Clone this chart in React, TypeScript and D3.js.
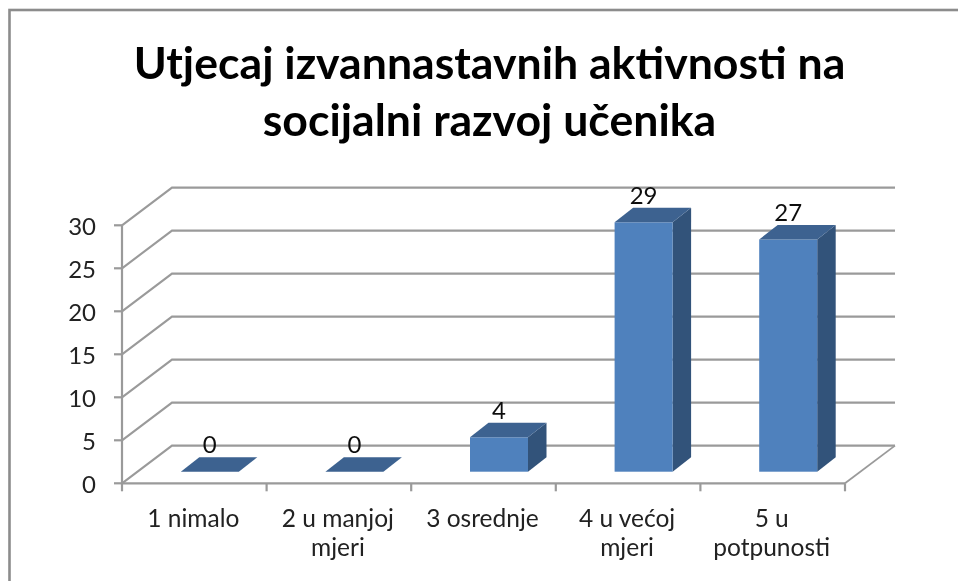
import React from "react";
import * as d3 from "d3";

const categories = [["1 nimalo"], ["2 u manjoj", "mjeri"], ["3 osrednje"], ["4 u većoj", "mjeri"], ["5 u", "potpunosti"]];
const values = [0, 0, 4, 29, 27];
const yTicks = [0, 5, 10, 15, 20, 25, 30];
const titleLines = ["Utjecaj izvannastavnih aktivnosti na", "socijalni razvoj učenika"];

const FONT = "Lato, 'Open Sans', sans-serif";
const GRID = "#9a9a9a";
const FRONT = "#4f81bd";
const TOP = "#3c6290";
const SIDE = "#32527a";

export default function App() {
  const band = d3.scaleBand<number>().domain(d3.range(5)).range([122, 845]).paddingInner(0).paddingOuter(0);
  const y = d3.scaleLinear().domain([0, 30]).range([483.3, 225.3]);
  const wallDx = 50;
  const wallDy = -37.7;
  const barW = 58;
  const barDx = 18.5;
  const barDy = -14.5;
  const barBase = 471.7;
  const barInset = 58.8;
  const barH = d3.scaleLinear().domain([0, 30]).range([0, 258]);
  const line = d3.line();
  const poly = (pts: [number, number][]) => line(pts)! + "Z";
  const tickXs = [...band.domain().map((i) => band(i)!), 845];

  return (
    <svg width={958} height={581} style={{ position: "absolute", left: 0, top: 0, background: "#fff" }}>
      <defs>
        <filter id="soft" x="-5%" y="-5%" width="110%" height="110%">
          <feGaussianBlur stdDeviation="0.55" />
        </filter>
      </defs>
      <g filter="url(#soft)">
        <rect x={9.5} y={10} width={980} height={600} fill="#fff" stroke="#8c8c8c" strokeWidth={2.6} />
        {yTicks.map((t) => (
          <g key={t} fill="none" stroke={GRID} strokeWidth={2.1}>
            <path d={line([[122, y(t)], [122 + wallDx, y(t) + wallDy], [845 + wallDx, y(t) + wallDy]])!} />
          </g>
        ))}
        <path d={line([[845, y(0)], [845 + wallDx, y(0) + wallDy]])!} fill="none" stroke={GRID} strokeWidth={1.8} />
        <path d={line([[122, y(30)], [122, y(0)], [845, y(0)]])!} fill="none" stroke={GRID} strokeWidth={2.2} />
        {yTicks.map((t) => (
          <line key={t} x1={114} x2={122} y1={y(t)} y2={y(t)} stroke={GRID} strokeWidth={2.2} />
        ))}
        {tickXs.map((x, i) => (
          <line key={i} x1={x} x2={x} y1={y(0)} y2={y(0) + 8} stroke={GRID} strokeWidth={2.2} />
        ))}
        {yTicks.map((t) => (
          <text key={t} x={96} y={y(t) + 10} textAnchor="end" fontFamily={FONT} fontSize={24} fill="#222">{t}</text>
        ))}
        {values.map((v, i) => {
          const left = band(i)! + barInset;
          const top = barBase - barH(v);
          const cx = left + barW / 2;
          return (
            <g key={i}>
              {v > 0 && <path d={poly([[left + barW, barBase], [left + barW + barDx, barBase + barDy], [left + barW + barDx, top + barDy], [left + barW, top]])} fill={SIDE} />}
              {v > 0 && <rect x={left} y={top} width={barW} height={barH(v)} fill={FRONT} />}
              <path d={poly([[left, top], [left + barW, top], [left + barW + barDx, top + barDy], [left + barDx, top + barDy]])} fill={TOP} />
              <text x={cx} y={top + barDy - 4} textAnchor="middle" fontFamily={FONT} fontSize={24} fill="#111">{v}</text>
            </g>
          );
        })}
        {categories.map((lines, i) =>
          lines.map((l, j) => (
            <text key={j} x={band(i)! + band.bandwidth() / 2 - 1} y={526.5 + j * 29} textAnchor="middle" fontFamily={FONT} fontSize={24.5} fill="#222">{l}</text>
          ))
        )}
        {titleLines.map((l, j) => (
          <text key={j} x={489.5} y={79 + j * 57} textAnchor="middle" fontFamily={FONT} fontWeight={700} fontSize={44.6} fill="#000">{l}</text>
        ))}
      </g>
    </svg>
  );
}
